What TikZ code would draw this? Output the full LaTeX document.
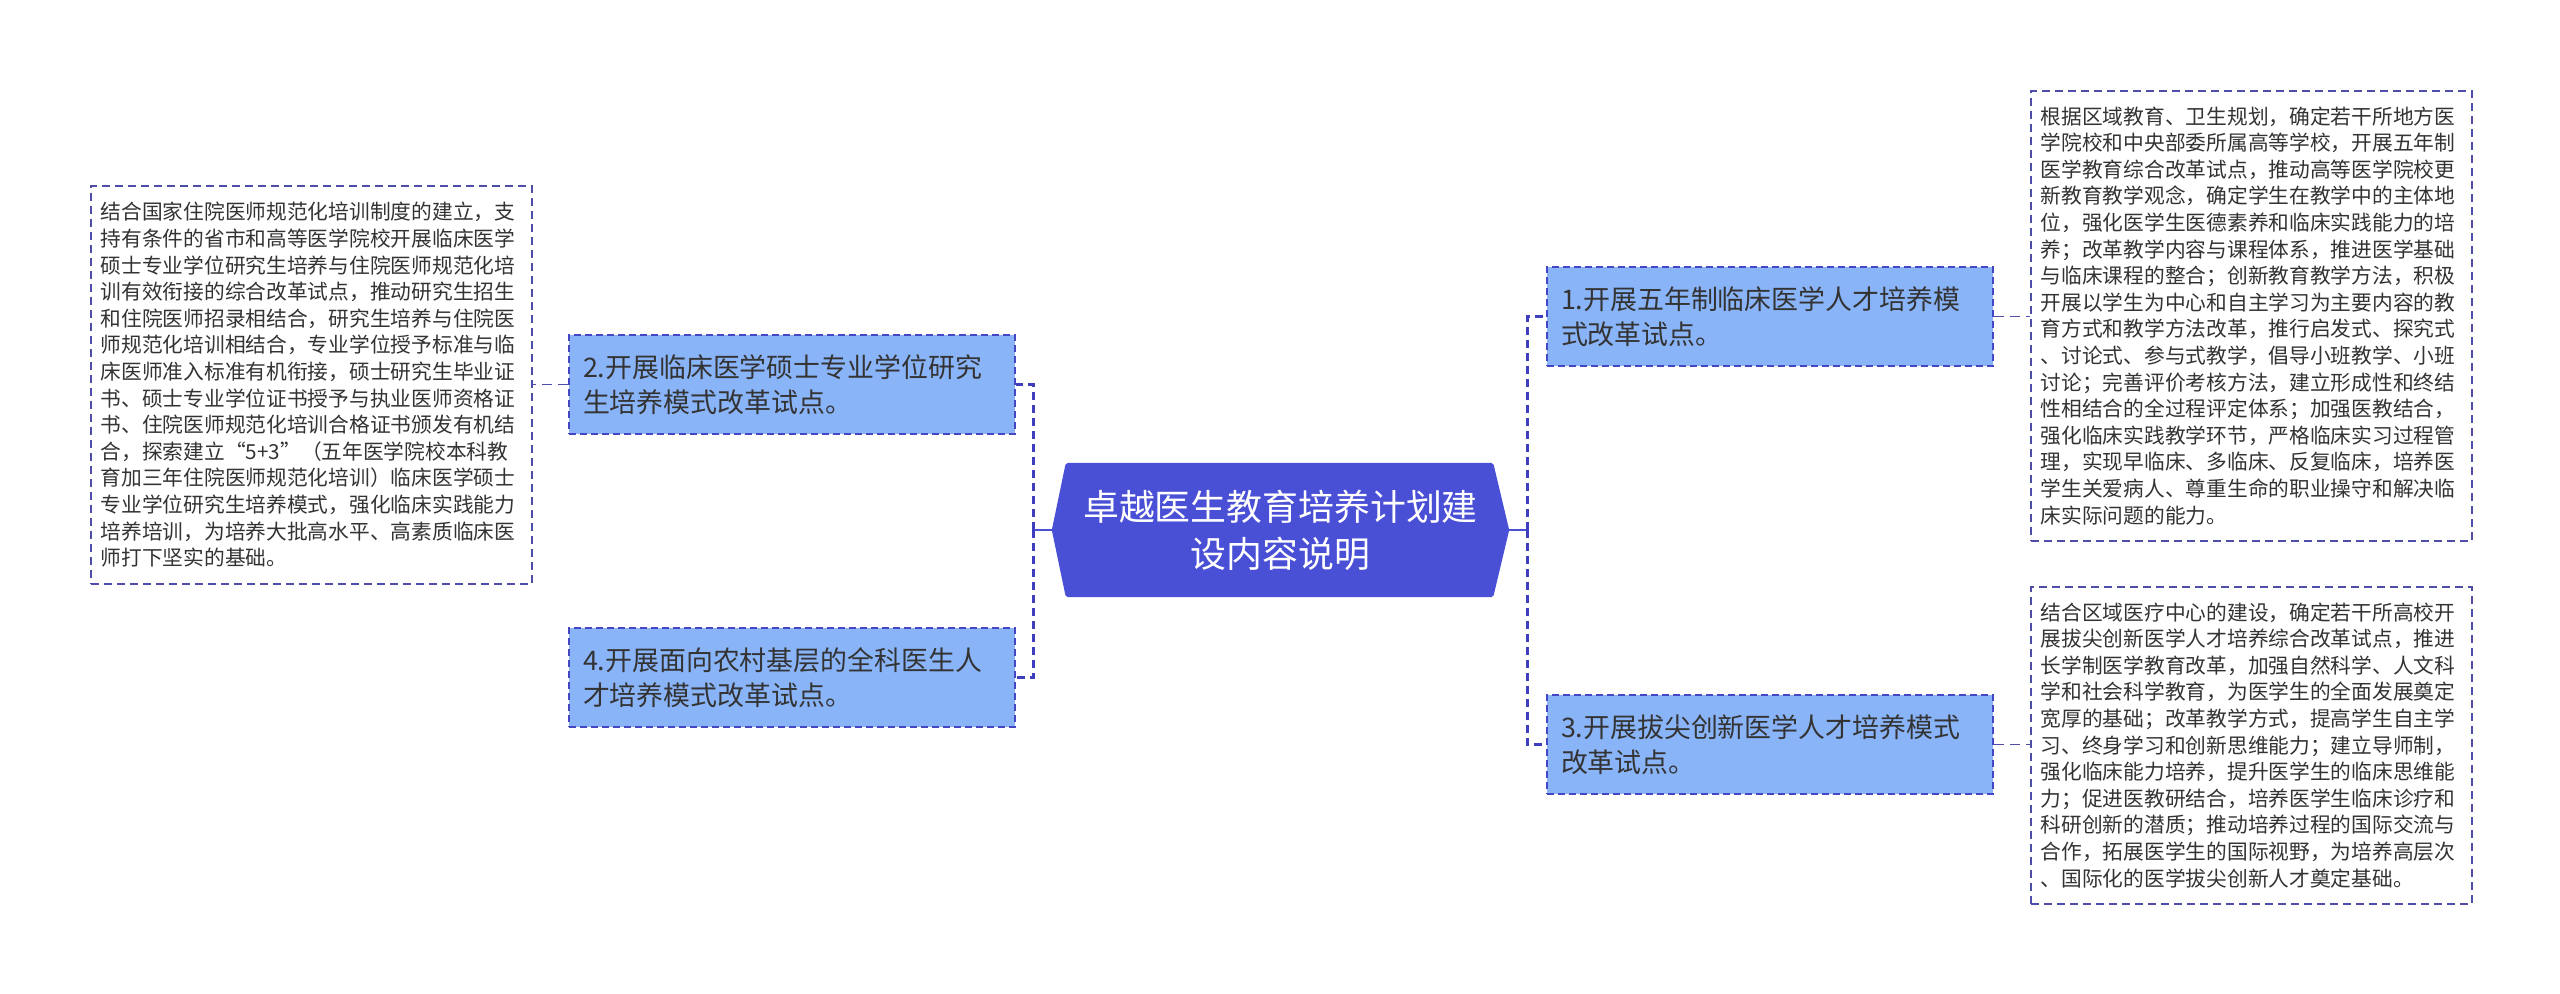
\documentclass[tikz,border=0pt]{standalone}
\usepackage{fontspec}
\setmainfont{Noto Sans CJK SC}
\usetikzlibrary{calc,backgrounds}
\definecolor{hubblue}{HTML}{4A50D6}
\definecolor{nodefill}{HTML}{8AB4F8}
\definecolor{lineblue}{HTML}{4646C4}
\definecolor{connblue}{HTML}{3E3EBE}
\definecolor{detailline}{HTML}{4E4EA8}
\definecolor{txt}{HTML}{333333}
\begin{document}
\begin{tikzpicture}[x=1bp,y=-1bp,
 hubnode/.style={minimum width=457bp,minimum height=134bp,inner sep=0pt,align=center,text=white,font=\fontsize{36}{47}\selectfont},
 topic/.style={anchor=north west,fill=nodefill,draw=lineblue,line width=2bp,dash pattern=on 7bp off 4bp,text width=418bp,inner xsep=14bp,inner ysep=0pt,minimum height=99bp,align=left,text=txt,font=\fontsize{27}{35}\selectfont},
 detail/.style={anchor=north west,fill=white,draw=detailline,line width=1.5bp,dash pattern=on 8bp off 5bp,text width=421bp,inner xsep=10bp,inner ysep=0pt,align=left,text=txt,font=\fontsize{20.8}{26.7}\selectfont},
 conn/.style={draw=connblue,line width=3bp,dash pattern=on 8bp off 5bp},
 detailconn/.style={draw=detailline,line width=1.6bp,dash pattern=on 10bp off 6bp},
 stub/.style={draw=hubblue,line width=2.5bp}]
\useasboundingbox (0,0) rectangle (2560,993);

\node[hubnode] (hub) at (1280.5,530) {卓越医生教育培养计划建\\设内容说明};
\begin{scope}[on background layer]
\fill[hubblue,rounded corners=2bp] (hub.west) -- ($(hub.north west)+(14,0)$) -- ($(hub.north east)+(-16,0)$) -- (hub.east) -- ($(hub.south east)+(-16,0)$) -- ($(hub.south west)+(14,0)$) -- cycle;
\end{scope}

\node[topic] (n1) at (1546,266) {1.开展五年制临床医学人才培养模\\式改革试点。};
\node[topic] (n3) at (1546,694) {3.开展拔尖创新医学人才培养模式\\改革试点。};
\node[topic] (n2) at (568,334) {2.开展临床医学硕士专业学位研究\\生培养模式改革试点。};
\node[topic] (n4) at (568,627) {4.开展面向农村基层的全科医生人\\才培养模式改革试点。};

\node[detail,minimum height=398bp] (d2) at (90,185) {结合国家住院医师规范化培训制度的建立，支\\持有条件的省市和高等医学院校开展临床医学\\硕士专业学位研究生培养与住院医师规范化培\\训有效衔接的综合改革试点，推动研究生招生\\和住院医师招录相结合，研究生培养与住院医\\师规范化培训相结合，专业学位授予标准与临\\床医师准入标准有机衔接，硕士研究生毕业证\\书、硕士专业学位证书授予与执业医师资格证\\书、住院医师规范化培训合格证书颁发有机结\\合，探索建立“5+3”（五年医学院校本科教\\育加三年住院医师规范化培训）临床医学硕士\\专业学位研究生培养模式，强化临床实践能力\\培养培训，为培养大批高水平、高素质临床医\\师打下坚实的基础。};

\node[detail,minimum height=450bp] (d1) at (2030,90) {根据区域教育、卫生规划，确定若干所地方医\\学院校和中央部委所属高等学校，开展五年制\\医学教育综合改革试点，推动高等医学院校更\\新教育教学观念，确定学生在教学中的主体地\\位，强化医学生医德素养和临床实践能力的培\\养；改革教学内容与课程体系，推进医学基础\\与临床课程的整合；创新教育教学方法，积极\\开展以学生为中心和自主学习为主要内容的教\\育方式和教学方法改革，推行启发式、探究式\\、讨论式、参与式教学，倡导小班教学、小班\\讨论；完善评价考核方法，建立形成性和终结\\性相结合的全过程评定体系；加强医教结合，\\强化临床实践教学环节，严格临床实习过程管\\理，实现早临床、多临床、反复临床，培养医\\学生关爱病人、尊重生命的职业操守和解决临\\床实际问题的能力。};

\node[detail,minimum height=317bp] (d3) at (2030,586) {结合区域医疗中心的建设，确定若干所高校开\\展拔尖创新医学人才培养综合改革试点，推进\\长学制医学教育改革，加强自然科学、人文科\\学和社会科学教育，为医学生的全面发展奠定\\宽厚的基础；改革教学方式，提高学生自主学\\习、终身学习和创新思维能力；建立导师制，\\强化临床能力培养，提升医学生的临床思维能\\力；促进医教研结合，培养医学生临床诊疗和\\科研创新的潜质；推动培养过程的国际交流与\\合作，拓展医学生的国际视野，为培养高层次\\、国际化的医学拔尖创新人才奠定基础。};

\coordinate (lj) at (1033,530);
\coordinate (rj) at (1527,530);
\draw[stub] (hub.west) -- (lj);
\draw[stub] (hub.east) -- (rj);
\draw[conn] (lj) |- (n2.east);
\draw[conn] (lj) |- (n4.east);
\draw[conn] (rj) |- (n1.west);
\draw[conn] (rj) |- (n3.west);
\draw[detailconn] (n2.west) -- (d2.east |- n2.west);
\draw[detailconn] (n1.east) -- (d1.west |- n1.east);
\draw[detailconn] (n3.east) -- (d3.west |- n3.east);
\end{tikzpicture}
\end{document}
